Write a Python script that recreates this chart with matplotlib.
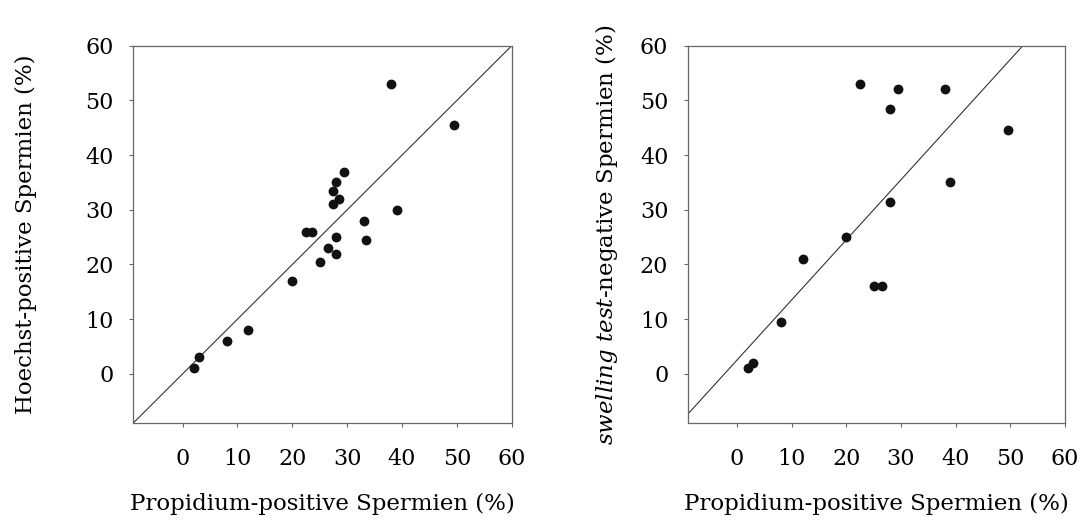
import numpy as np
import matplotlib
matplotlib.use("Agg")
import matplotlib.pyplot as plt

plt.rcParams['font.family'] = ['DejaVu Serif']
plt.rcParams['mathtext.fontset'] = 'dejavuserif'

# left panel: propidium vs hoechst
pi_left = [38, 49.5, 29.5, 28, 27.5, 28.5, 27.5, 39, 33, 22.5, 23.5, 28, 33.5,
           26.5, 28, 25, 20, 12, 8, 3, 2]
hoechst = [53, 45.5, 37, 35, 33.5, 32, 31, 30, 28, 26, 26, 25, 24.5,
           23, 22, 20.5, 17, 8, 6, 3, 1]

# right panel: propidium vs swelling test
pi_right = [22.5, 29.5, 38, 28, 49.5, 39, 28, 20, 12, 25, 26.5, 8, 3, 2]
swelling = [53, 52, 52, 48.5, 44.5, 35, 31.5, 25, 21, 16, 16, 9.5, 2, 1]

# lines: identity on left, fitted line on right
line_left = (0.0, 1.0)
line_right = (2.5, 1.1)

ticks = [0, 10, 20, 30, 40, 50, 60]
lim = (-9, 60)

fig = plt.figure(figsize=(10.89, 5.24), dpi=100)
ax1 = fig.add_axes([0.1224, 0.1927, 0.3475, 0.720])
ax2 = fig.add_axes([0.6315, 0.1927, 0.3465, 0.720])

panels = [
    (ax1, pi_left, hoechst, line_left, "Hoechst-positive Spermien (%)", -0.255),
    (ax2, pi_right, swelling, line_right,
     r"$\mathit{swelling\ test}$-negative Spermien (%)", -0.18),
]

for ax, x, y, (a, b), ylab, ylx in panels:
    xx = np.array(lim)
    ax.plot(xx, a + b * xx, color='#333333', lw=0.8, zorder=1)
    ax.scatter(x, y, s=50, color='#111111', zorder=2, linewidths=0)
    ax.set_xlim(lim)
    ax.set_ylim(lim)
    ax.set_xticks(ticks)
    ax.set_yticks(ticks)
    ax.tick_params(direction='out', length=3, width=0.8, color='#666666',
                   labelsize=16)
    ax.tick_params(axis='x', pad=15)
    ax.tick_params(axis='y', pad=11)
    for s in ax.spines.values():
        s.set_color('#666666')
        s.set_linewidth(0.9)
    ax.set_xlabel("Propidium-positive Spermien (%)", fontsize=16.5)
    ax.xaxis.set_label_coords(0.5, -0.186)
    ax.set_ylabel(ylab, fontsize=16.5)
    ax.yaxis.set_label_coords(ylx, 0.5)

fig.savefig("out.png", dpi=100)
